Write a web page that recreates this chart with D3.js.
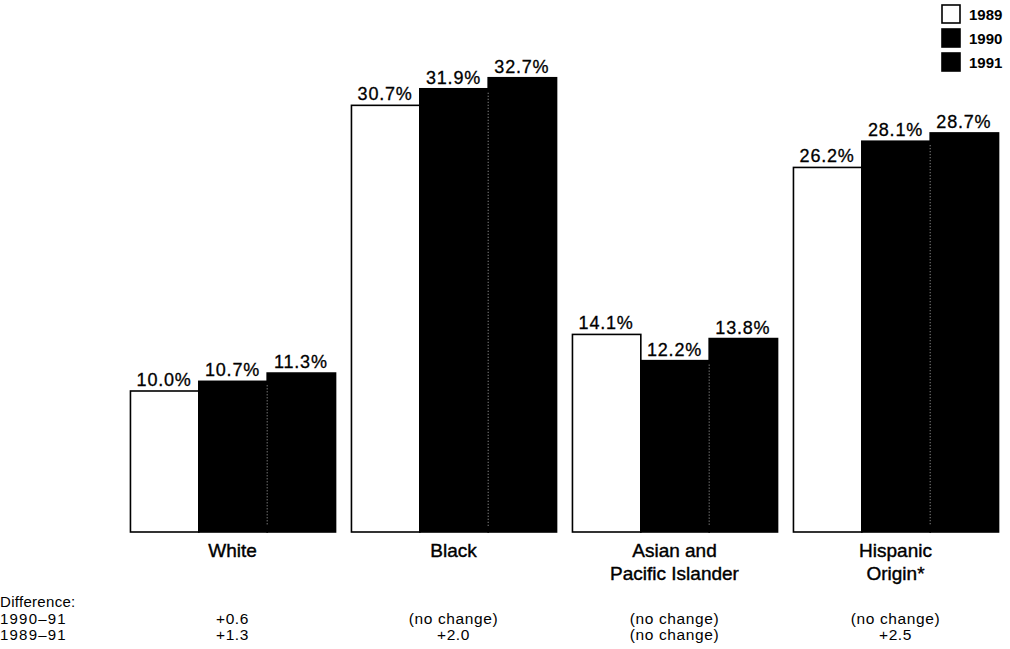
<!DOCTYPE html>
<html><head><meta charset="utf-8">
<script src="https://cdn.jsdelivr.net/npm/d3@7"></script>
<style>body{margin:0;background:#fff}svg{display:block;font-family:"Liberation Sans",Arial,sans-serif}</style>
</head><body><svg id="c" width="1010" height="649"></svg>
<script>
const categories = [["White"], ["Black"], ["Asian and", "Pacific Islander"], ["Hispanic", "Origin*"]];
const years = ["1989", "1990", "1991"];
const values1989 = [10.0, 30.7, 14.1, 26.2];
const values1990 = [10.7, 31.9, 12.2, 28.1];
const values1991 = [11.3, 32.7, 13.8, 28.7];
const diff9091 = ["+0.6", "(no change)", "(no change)", "(no change)"];
const diff8991 = ["+1.3", "+2.0", "(no change)", "+2.5"];
const diffLabels = ["Difference:", "1990\u201391", "1989\u201391"];

const series = [values1989, values1990, values1991];
const fills = ["#fff", "#000", "#000"];
const svg = d3.select("#c");
const base = 532;
const y = d3.scaleLinear().domain([0, 10]).range([529, 391]);
const x0 = d3.scaleBand().domain(d3.range(categories.length)).range([122, 1006]).paddingInner(0.072).paddingOuter(0.036);
const x1 = d3.scaleBand().domain(d3.range(years.length)).range([0, x0.bandwidth()]);

const g = svg.append("g");
categories.forEach((c, i) => {
  const gg = g.append("g").attr("transform", `translate(${x0(i)},0)`);
  series.forEach((s, k) => {
    gg.append("rect").attr("x", x1(k) + 0.5).attr("y", y(s[i])).attr("width", x1.bandwidth())
      .attr("height", base - y(s[i])).attr("fill", fills[k]).attr("stroke", "#000").attr("stroke-width", 1.6);
    gg.append("text").attr("x", x1(k) + x1.bandwidth() / 2).attr("y", y(s[i]) - 5)
      .attr("text-anchor", "middle").attr("font-size", 18).attr("letter-spacing", 0.8)
      .attr("stroke", "#000").attr("stroke-width", 0.3).text(s[i].toFixed(1) + "%");
  });
  gg.append("line").attr("x1", x1(2) + 0.5).attr("x2", x1(2) + 0.5)
    .attr("y1", Math.max(y(series[1][i]), y(series[2][i])) + 4).attr("y2", base - 6)
    .attr("stroke", "#aaa").attr("stroke-width", 1).attr("stroke-dasharray", "1,2");
  const cx = x0(i) + x0.bandwidth() / 2;
  c.forEach((line, j) => {
    g.append("text").attr("x", cx).attr("y", 557 + j * 23).attr("text-anchor", "middle")
      .attr("font-size", 19).attr("stroke", "#000").attr("stroke-width", 0.4).text(line);
  });
  g.append("text").attr("x", cx).attr("y", 624).attr("text-anchor", "middle").attr("font-size", 15.5).attr("letter-spacing", 0.6).text(diff9091[i]);
  g.append("text").attr("x", cx).attr("y", 640).attr("text-anchor", "middle").attr("font-size", 15.5).attr("letter-spacing", 0.6).text(diff8991[i]);
});

diffLabels.forEach((t, j) => {
  svg.append("text").attr("x", 0).attr("y", 607 + j * 16.5).attr("font-size", 15)
    .attr("letter-spacing", j === 0 ? 0.3 : 1.2).text(t);
});

const leg = svg.append("g");
years.forEach((yr, k) => {
  leg.append("rect").attr("x", 942).attr("y", 5 + k * 24).attr("width", 18).attr("height", 18)
    .attr("fill", fills[k]).attr("stroke", "#000").attr("stroke-width", 1.6);
  leg.append("text").attr("x", 969).attr("y", 20 + k * 24).attr("font-size", 15).attr("font-weight", "bold").text(yr);
});
</script></body></html>
